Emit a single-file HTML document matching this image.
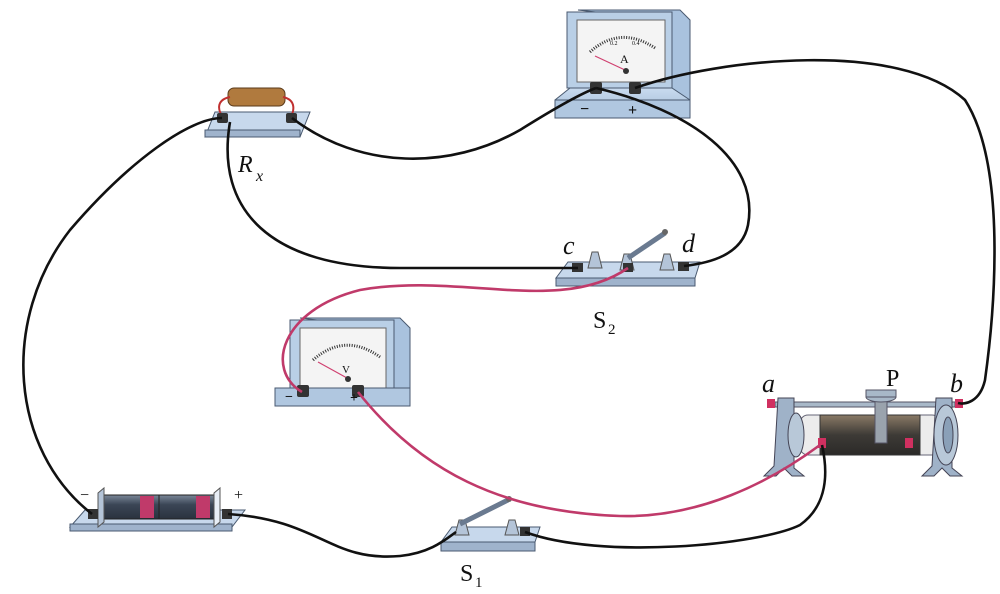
<!DOCTYPE html>
<html><head><meta charset="utf-8"><style>
html,body{margin:0;padding:0;background:#fff;}
svg{display:block;}
text{font-family:"Liberation Serif",serif;fill:#111;}
</style></head><body>
<svg width="1000" height="594" viewBox="0 0 1000 594" xmlns="http://www.w3.org/2000/svg">
<defs>
<linearGradient id="g1" x1="0" y1="0" x2="0" y2="1"><stop offset="0" stop-color="#c9dbef"/><stop offset="1" stop-color="#9fb8d4"/></linearGradient>
<linearGradient id="cyl" x1="0" y1="0" x2="0" y2="1"><stop offset="0" stop-color="#7a8798"/><stop offset="0.4" stop-color="#3b4656"/><stop offset="1" stop-color="#2a323e"/></linearGradient>
<linearGradient id="coil" x1="0" y1="0" x2="0" y2="1"><stop offset="0" stop-color="#8a7a66"/><stop offset="0.5" stop-color="#3d3a36"/><stop offset="1" stop-color="#2b2a28"/></linearGradient>
</defs>

<!-- Rx -->
<polygon points="215,112 310,112 300,137 205,137" fill="#c7d8ec" stroke="#4a5a70" stroke-width="1"/>
<rect x="205" y="130" width="95" height="7" fill="#9fb3cc" stroke="#4a5a70" stroke-width="1"/>
<rect x="228" y="88" width="57" height="18" rx="6" fill="#b07a3e" stroke="#5a3a1a"/>
<path d="M230,97 C215,100 218,112 224,118 M283,97 C297,100 294,112 290,118" stroke="#c03030" stroke-width="2" fill="none"/>
<rect x="217" y="113" width="11" height="10" rx="2" fill="#333"/>
<rect x="286" y="113" width="11" height="10" rx="2" fill="#333"/>

<!-- Ammeter -->
<polygon points="578,10 680,10 690,20 690,100 665,100 665,20" fill="#a9c2de" stroke="#4a5a70"/>
<rect x="567" y="12" width="105" height="76" fill="#b9cfe6" stroke="#4a5a70"/>
<rect x="577" y="20" width="88" height="62" fill="#f4f4f4" stroke="#666"/>
<path d="M590,52 Q620,25 655,48" stroke="#333" stroke-width="3" fill="none" stroke-dasharray="1,1.5"/>
<line x1="595" y1="56" x2="625" y2="70" stroke="#d04070" stroke-width="1.2"/>
<circle cx="626" cy="71" r="3" fill="#333"/>
<text x="620" y="63" font-size="12">A</text>
<text x="610" y="45" font-size="6">0.2</text><text x="632" y="45" font-size="6">0.4</text>
<polygon points="570,88 672,88 690,100 690,118 555,118 555,100" fill="url(#g1)" stroke="#4a5a70"/>
<rect x="555" y="100" width="135" height="18" fill="#b0c7e0" stroke="#4a5a70"/>
<rect x="590" y="82" width="12" height="12" rx="2" fill="#333"/>
<rect x="629" y="82" width="12" height="12" rx="2" fill="#333"/>
<text x="580" y="114" font-size="16" font-family="Liberation Sans" font-weight="bold">−</text>
<text x="628" y="115" font-size="16" font-family="Liberation Sans" font-weight="bold">+</text>

<!-- S2 -->
<polygon points="568,262 700,262 695,278 556,278" fill="#c7d8ec" stroke="#4a5a70"/>
<rect x="556" y="278" width="139" height="8" fill="#9fb3cc" stroke="#4a5a70"/>
<rect x="572" y="263" width="11" height="9" fill="#333"/>
<polygon points="588,268 592,252 598,252 602,268" fill="#b4c4d8" stroke="#555"/>
<polygon points="620,270 624,254 630,254 634,270" fill="#b4c4d8" stroke="#555"/>
<rect x="623" y="263" width="10" height="9" fill="#333"/>
<line x1="628" y1="258" x2="665" y2="233" stroke="#6a7a90" stroke-width="5"/>
<circle cx="665" cy="232" r="3" fill="#666"/>
<polygon points="660,270 664,254 670,254 674,270" fill="#b4c4d8" stroke="#555"/>
<rect x="678" y="262" width="11" height="9" fill="#333"/>

<!-- Voltmeter -->
<polygon points="300,318 400,318 410,328 410,390 385,390 385,328" fill="#a9c2de" stroke="#4a5a70"/>
<rect x="290" y="320" width="104" height="74" fill="#b9cfe6" stroke="#4a5a70"/>
<rect x="300" y="328" width="86" height="60" fill="#f4f4f4" stroke="#666"/>
<path d="M313,360 Q345,332 380,357" stroke="#333" stroke-width="3" fill="none" stroke-dasharray="1,1.5"/>
<line x1="318" y1="362" x2="347" y2="378" stroke="#d04070" stroke-width="1.2"/>
<circle cx="348" cy="379" r="3" fill="#333"/>
<text x="342" y="373" font-size="11">V</text>
<polygon points="290,394 394,394 410,390 410,405 275,405 275,398" fill="url(#g1)" stroke="#4a5a70"/>
<rect x="275" y="388" width="135" height="18" fill="#b0c7e0" stroke="#4a5a70"/>
<rect x="297" y="385" width="12" height="12" rx="2" fill="#333"/>
<rect x="352" y="385" width="12" height="12" rx="2" fill="#333"/>
<text x="285" y="401" font-size="14" font-family="Liberation Sans" font-weight="bold">−</text>
<text x="350" y="402" font-size="14" font-family="Liberation Sans" font-weight="bold">+</text>

<!-- Battery -->
<polygon points="85,510 245,510 232,527 70,527" fill="#c7d8ec" stroke="#4a5a70"/>
<rect x="70" y="524" width="162" height="7" fill="#9fb3cc" stroke="#4a5a70"/>
<rect x="100" y="495" width="120" height="24" rx="3" fill="url(#cyl)" stroke="#222"/>
<rect x="140" y="496" width="14" height="22" fill="#c03a6a"/>
<rect x="196" y="496" width="14" height="22" fill="#c03a6a"/>
<line x1="159" y1="495" x2="159" y2="519" stroke="#222"/>
<polygon points="98,493 104,488 104,522 98,527" fill="#b4c4d8" stroke="#555"/>
<polygon points="214,493 220,488 220,522 214,527" fill="#e8eef6" stroke="#555"/>
<rect x="88" y="509" width="10" height="10" fill="#333"/>
<rect x="222" y="509" width="10" height="10" fill="#333"/>
<text x="80" y="500" font-size="16" font-family="Liberation Sans">−</text>
<text x="234" y="500" font-size="16" font-family="Liberation Sans">+</text>

<!-- S1 -->
<polygon points="452,527 540,527 535,542 441,542" fill="#c7d8ec" stroke="#4a5a70"/>
<rect x="441" y="542" width="94" height="9" fill="#9fb3cc" stroke="#4a5a70"/>
<polygon points="455,535 459,520 465,520 469,535" fill="#b4c4d8" stroke="#555"/>
<line x1="460" y1="524" x2="508" y2="500" stroke="#6a7a90" stroke-width="5"/>
<circle cx="509" cy="499" r="3" fill="#666"/>
<polygon points="505,535 509,520 515,520 519,535" fill="#b4c4d8" stroke="#555"/>
<rect x="520" y="527" width="10" height="9" fill="#333"/>

<!-- Rheostat -->
<rect x="775" y="402" width="180" height="5" fill="#a8b8c8" stroke="#556"/>
<rect x="800" y="415" width="140" height="40" rx="8" fill="#ececec" stroke="#667"/>
<rect x="820" y="415" width="100" height="40" fill="url(#coil)" stroke="#333"/>
<rect x="875" y="398" width="12" height="45" fill="#9aa3ad" stroke="#556"/>
<ellipse cx="881" cy="397" rx="15" ry="5" fill="#a8b8c8" stroke="#556"/>
<rect x="866" y="390" width="30" height="7" fill="#a8b8c8" stroke="#556"/>
<path d="M778,398 h16 v70 l10,8 h-12 l-8,-8 l-8,8 h-12 l10,-10 z" fill="#9fb2c8" stroke="#445"/>
<ellipse cx="796" cy="435" rx="8" ry="22" fill="#b8c8d8" stroke="#445"/>
<path d="M936,398 h16 v70 l10,8 h-12 l-8,-8 l-8,8 h-12 l10,-10 z" fill="#9fb2c8" stroke="#445"/>
<ellipse cx="946" cy="435" rx="12" ry="30" fill="#b8c8d8" stroke="#445"/>
<ellipse cx="948" cy="435" rx="5" ry="18" fill="#8aa0b8" stroke="#445"/>
<rect x="767" y="399" width="8" height="9" fill="#d03060"/>
<rect x="955" y="399" width="8" height="9" fill="#d03060"/>
<rect x="818" y="438" width="8" height="10" fill="#d03060"/>
<rect x="905" y="438" width="8" height="10" fill="#d03060"/>

<!-- black wires -->
<g stroke="#111" stroke-width="2.6" fill="none">
<path d="M92,514 C10,450 0,320 70,230 C130,160 190,118 222,118"/>
<path d="M292,118 C360,170 450,170 520,130 C560,105 585,92 596,88"/>
<path d="M230,122 C215,210 270,268 400,268 L578,268"/>
<path d="M596,88 C690,110 760,160 748,225 C742,255 710,263 684,266"/>
<path d="M635,88 C720,58 900,40 965,100 C1010,170 992,330 985,380 C980,402 965,405 958,403"/>
<path d="M228,514 C320,520 330,562 400,556 C430,553 445,540 456,532"/>
<path d="M525,532 C600,560 760,545 800,525 C828,505 828,472 822,445"/>
</g>
<!-- pink wires -->
<g stroke="#c03a6a" stroke-width="2.6" fill="none">
<path d="M628,268 C560,315 460,272 360,290 C280,310 265,370 302,392"/>
<path d="M358,392 C420,470 500,512 620,516 C700,518 770,482 820,445"/>
</g>

<!-- labels -->
<text x="238" y="172" font-size="24" font-style="italic">R</text>
<text x="256" y="181" font-size="16" font-style="italic">x</text>
<text x="563" y="254" font-size="26" font-style="italic">c</text>
<text x="682" y="252" font-size="26" font-style="italic">d</text>
<text x="593" y="328" font-size="24">S</text>
<text x="608" y="334" font-size="15">2</text>
<text x="762" y="392" font-size="26" font-style="italic">a</text>
<text x="886" y="386" font-size="24">P</text>
<text x="950" y="392" font-size="26" font-style="italic">b</text>
<text x="460" y="581" font-size="24">S</text>
<text x="475" y="587" font-size="15">1</text>
</svg>
</body></html>
